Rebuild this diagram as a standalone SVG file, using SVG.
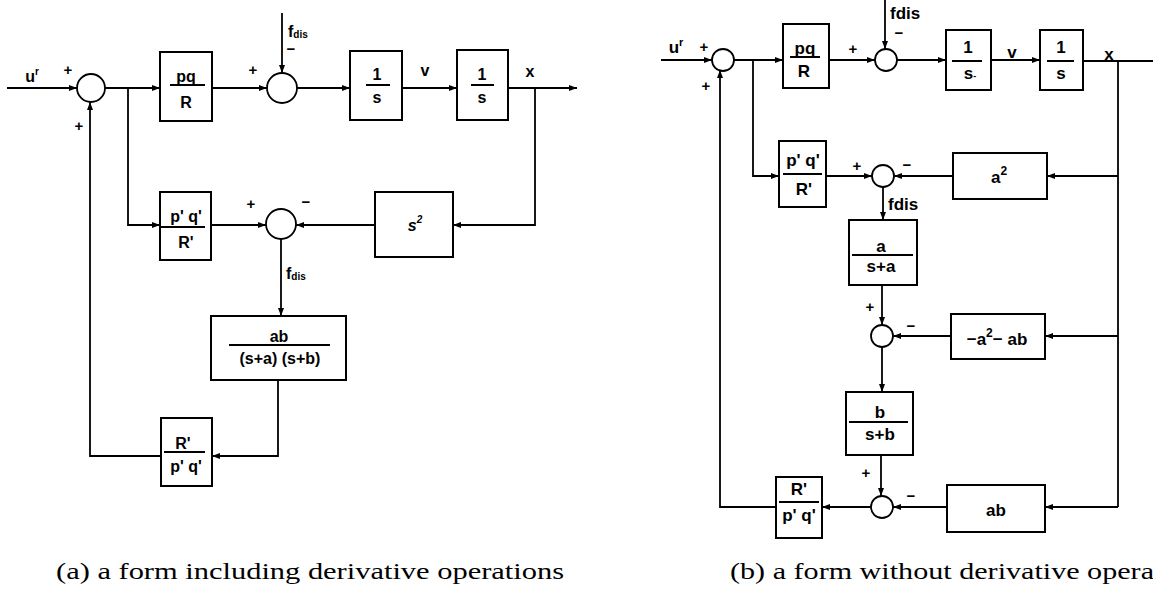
<svg xmlns="http://www.w3.org/2000/svg" width="1153" height="611" viewBox="0 0 1153 611">
<style>
.bx{fill:#fff;stroke:#000;stroke-width:2}
.sm{fill:#fff;stroke:#000;stroke-width:1.8}
.ln{fill:none;stroke:#000;stroke-width:1.8}
.fr{stroke:#000;stroke-width:2}
.t{font-family:"Liberation Sans",Arial,sans-serif;font-weight:bold;font-size:16px;text-anchor:middle;fill:#000}
.r{font-family:"Liberation Sans",Arial,sans-serif;font-weight:bold;font-size:17px;text-anchor:middle;fill:#000}
.sg{font-family:"Liberation Sans",Arial,sans-serif;font-weight:bold;font-size:15px;text-anchor:middle;fill:#000}
.st{text-anchor:start}
.cap{font-family:"Liberation Serif","Times New Roman",serif;font-size:24px;fill:#000}
</style>
<defs>
<marker id="ah" viewBox="0 0 8 6" refX="8" refY="3" markerWidth="8" markerHeight="6" orient="auto" markerUnits="userSpaceOnUse"><path d="M0,0 L8,3 L0,6 z" fill="#000"/></marker>
</defs>

<!-- ===== (a) ===== -->
<g id="connectors-a" class="ln" marker-end="url(#ah)">
<path d="M7,88 H77"/>
<path d="M105,88 H160"/>
<path d="M212,88 H267"/>
<path d="M282,13 V73"/>
<path d="M297,88 H350"/>
<path d="M402,88 H457"/>
<path d="M508,88 H577"/>
<path d="M535,88 V225 H453"/>
<path d="M375,225 H296"/>
<path d="M128,88 V225 H160"/>
<path d="M211,225 H266"/>
<path d="M281,239 V316"/>
<path d="M278,380 V456 H212"/>
<path d="M161,456 H90 V102"/>
</g>

<g id="sum-a1"><circle class="sm" cx="91" cy="88" r="14"/></g>
<g id="sum-a2"><circle class="sm" cx="282" cy="88" r="15"/></g>
<g id="sum-a3"><circle class="sm" cx="281" cy="224" r="15"/></g>

<g id="a-pqR"><rect class="bx" x="160" y="52" width="52" height="69"/>
<text class="t" x="186" y="82">pq</text><line class="fr" x1="170" y1="85" x2="205" y2="85"/><text class="t" x="186" y="108">R</text></g>
<g id="a-int1"><rect class="bx" x="350" y="51" width="52" height="69"/>
<text class="t" x="377" y="80">1</text><line class="fr" x1="366" y1="85" x2="390" y2="85"/><text class="t" x="377" y="103">s</text></g>
<g id="a-int2"><rect class="bx" x="457" y="50" width="51" height="70"/>
<text class="t" x="482" y="80">1</text><line class="fr" x1="471" y1="85" x2="494" y2="85"/><text class="t" x="482" y="103">s</text></g>
<g id="a-pqR2"><rect class="bx" x="160" y="192" width="51" height="68"/>
<text class="t" x="186" y="222">p' q'</text><line class="fr" x1="161" y1="227" x2="205" y2="227"/><text class="t" x="186" y="248">R'</text></g>
<g id="a-s2"><rect class="bx" x="375" y="192" width="78" height="65"/>
<text class="t" x="415" y="231" font-style="italic">s<tspan font-size="10" dy="-8">2</tspan></text></g>
<g id="a-ab"><rect class="bx" x="211" y="316" width="135" height="64"/>
<text class="t" x="279" y="342">ab</text><line class="fr" x1="229" y1="345" x2="330" y2="345"/><text class="t" x="280" y="364">(s+a) (s+b)</text></g>
<g id="a-Rpq"><rect class="bx" x="161" y="418" width="51" height="68"/>
<text class="t" x="183" y="449">R'</text><line class="fr" x1="164" y1="452" x2="205" y2="452"/><text class="t" x="186" y="472">p' q'</text></g>

<g id="labels-a">
<text class="t" x="32" y="82">u<tspan font-size="10" dy="-7">r</tspan></text>
<text class="sg" x="68" y="75">+</text>
<text class="sg" x="79" y="131">+</text>
<text class="sg" x="253" y="75">+</text>
<text class="sg" x="291" y="54">−</text>
<text class="t st" x="288" y="37">f<tspan font-size="10" dy="1">dis</tspan></text>
<text class="t" x="425" y="76">v</text>
<text class="t" x="530" y="77">x</text>
<text class="sg" x="251" y="209">+</text>
<text class="sg" x="306" y="207">−</text>
<text class="t st" x="286" y="279">f<tspan font-size="10" dy="1">dis</tspan></text>
</g>

<!-- ===== (b) ===== -->
<g id="connectors-b" class="ln">
<path d="M661,60 H712" marker-end="url(#ah)"/>
<path d="M734,60 H783" marker-end="url(#ah)"/>
<path d="M829,60 H875" marker-end="url(#ah)"/>
<path d="M885,0 V49" marker-end="url(#ah)"/>
<path d="M897,60 H946" marker-end="url(#ah)"/>
<path d="M991,60 H1040" marker-end="url(#ah)"/>
<path d="M1083,61 H1153"/>
<path d="M1118,61 V507"/>
<path d="M753,60 V176 H779" marker-end="url(#ah)"/>
<path d="M826,176 H872" marker-end="url(#ah)"/>
<path d="M953,176 H894" marker-end="url(#ah)"/>
<path d="M1118,176 H1047" marker-end="url(#ah)"/>
<path d="M883,186 V220" marker-end="url(#ah)"/>
<path d="M882,285 V325" marker-end="url(#ah)"/>
<path d="M951,336 H893" marker-end="url(#ah)"/>
<path d="M1118,336 H1045" marker-end="url(#ah)"/>
<path d="M882,347 V392" marker-end="url(#ah)"/>
<path d="M881,455 V496" marker-end="url(#ah)"/>
<path d="M947,507 H893" marker-end="url(#ah)"/>
<path d="M1118,507 H1045" marker-end="url(#ah)"/>
<path d="M871,507 H822" marker-end="url(#ah)"/>
<path d="M776,507 H720 V70" marker-end="url(#ah)"/>
</g>

<g id="sum-b1"><circle class="sm" cx="723" cy="60" r="11"/></g>
<g id="sum-b2"><circle class="sm" cx="886" cy="60" r="11"/></g>
<g id="sum-b3"><circle class="sm" cx="883" cy="176" r="11"/></g>
<g id="sum-b4"><circle class="sm" cx="882" cy="336" r="11"/></g>
<g id="sum-b5"><circle class="sm" cx="882" cy="507" r="11"/></g>

<g id="b-pqR"><rect class="bx" x="783" y="24" width="46" height="64"/>
<text class="r" x="805" y="54">pq</text><line class="fr" x1="790" y1="57" x2="820" y2="57"/><text class="r" x="804" y="77">R</text></g>
<g id="b-int1"><rect class="bx" x="946" y="30" width="45" height="60"/>
<text class="r" x="968" y="53" font-size="20">1</text><line class="fr" x1="952" y1="61" x2="982" y2="61"/><text class="r" x="970" y="79">s<tspan font-size="9">-</tspan></text></g>
<g id="b-int2"><rect class="bx" x="1040" y="30" width="43" height="60"/>
<text class="r" x="1061" y="53" font-size="20">1</text><line class="fr" x1="1047" y1="61" x2="1074" y2="61"/><text class="r" x="1061" y="79">s</text></g>
<g id="b-pqR2"><rect class="bx" x="779" y="141" width="47" height="66"/>
<text class="r" x="803" y="166">p' q'</text><line class="fr" x1="783" y1="174" x2="822" y2="174"/><text class="r" x="804" y="195">R'</text></g>
<g id="b-a2"><rect class="bx" x="953" y="153" width="94" height="46"/>
<text class="r" x="999" y="183">a<tspan font-size="12" dy="-8">2</tspan></text></g>
<g id="b-a"><rect class="bx" x="849" y="220" width="68" height="65"/>
<text class="r" x="881" y="252">a</text><line class="fr" x1="852" y1="255" x2="913" y2="255"/><text class="r" x="881" y="272">s+a</text></g>
<g id="b-a2ab"><rect class="bx" x="951" y="314" width="94" height="45"/>
<text class="r" x="997" y="345">−a<tspan font-size="12" dy="-8">2</tspan><tspan dy="8">− ab</tspan></text></g>
<g id="b-b"><rect class="bx" x="846" y="392" width="67" height="63"/>
<text class="r" x="880" y="418">b</text><line class="fr" x1="849" y1="422" x2="908" y2="422"/><text class="r" x="880" y="440">s+b</text></g>
<g id="b-ab"><rect class="bx" x="947" y="485" width="98" height="47"/>
<text class="r" x="996" y="516">ab</text></g>
<g id="b-Rpq"><rect class="bx" x="776" y="477" width="46" height="61"/>
<text class="r" x="799" y="495">R'</text><line class="fr" x1="779" y1="502" x2="819" y2="502"/><text class="r" x="799" y="521">p' q'</text></g>

<g id="labels-b">
<text class="r" x="676" y="53">u<tspan font-size="11" dy="-7">r</tspan></text>
<text class="sg" x="704" y="52">+</text>
<text class="sg" x="706" y="91">+</text>
<text class="sg" x="853" y="54">+</text>
<text class="sg" x="899" y="38" font-size="13">−</text>
<text class="r st" x="890" y="19">fdis</text>
<text class="r" x="1012" y="58">v</text>
<text class="r" x="1109" y="60">x</text>
<text class="sg" x="857" y="171">+</text>
<text class="sg" x="907" y="170">−</text>
<text class="r st" x="888" y="210">fdis</text>
<text class="sg" x="870" y="312">+</text>
<text class="sg" x="911" y="331">−</text>
<text class="sg" x="866" y="478">+</text>
<text class="sg" x="911" y="501">−</text>
</g>

<g id="captions">
<text class="cap" x="56" y="579" textLength="508" lengthAdjust="spacingAndGlyphs">(a) a form including derivative operations</text>
<text class="cap" x="730" y="579" textLength="424" lengthAdjust="spacingAndGlyphs">(b) a form without derivative opera</text>
</g>
</svg>
